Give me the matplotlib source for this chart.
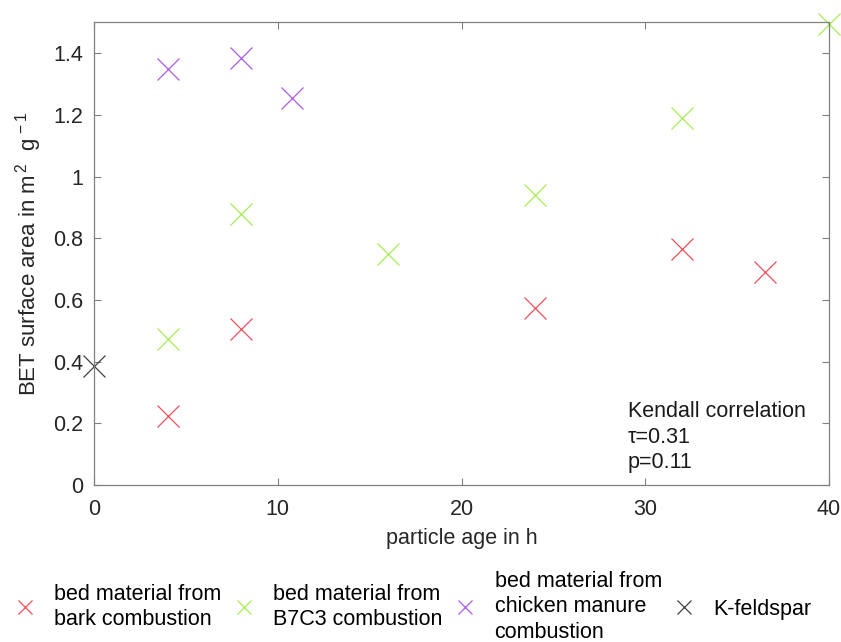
import matplotlib.pyplot as plt

plt.rcParams['font.family'] = ['Liberation Sans', 'DejaVu Sans']
plt.rcParams['mathtext.fontset'] = 'custom'
plt.rcParams['mathtext.rm'] = 'Liberation Sans'
plt.rcParams['mathtext.it'] = 'Liberation Sans'

# particle age (h) and BET surface area (m2/g)
bark_age = [4, 8, 24, 32, 36.5]
bark_bet = [0.225, 0.505, 0.575, 0.765, 0.69]
b7c3_age = [4, 8, 16, 24, 32, 40]
b7c3_bet = [0.475, 0.88, 0.75, 0.94, 1.19, 1.495]
chicken_age = [4, 8, 10.8]
chicken_bet = [1.35, 1.385, 1.255]
feldspar_age = [0]
feldspar_bet = [0.385]

labels = ["bed material from\nbark combustion",
          "bed material from\nB7C3 combustion",
          "bed material from\nchicken manure\ncombustion",
          "K-feldspar"]
colors = ["#ee4f5a", "#a8ec58", "#b05ae6", "#404040"]

fig = plt.figure(figsize=(8.41, 6.42), dpi=100)
ax = fig.add_axes([0.1118, 0.2445, 0.874, 0.7205])

series = [(bark_age, bark_bet), (b7c3_age, b7c3_bet),
          (chicken_age, chicken_bet), (feldspar_age, feldspar_bet)]
for (x, y), lab, c in zip(series, labels, colors):
    ax.plot(x, y, linestyle="none", marker="x", markersize=16,
            markeredgewidth=0.9, color=c, label=lab, clip_on=False)

ax.set_xlim(0, 40)
ax.set_ylim(0, 1.5)
ax.set_xticks([0, 10, 20, 30, 40])
ax.set_yticks([0, 0.2, 0.4, 0.6, 0.8, 1, 1.2, 1.4])
ax.set_yticklabels(["0", "0.2", "0.4", "0.6", "0.8", "1", "1.2", "1.4"])
ax.tick_params(direction="in", top=True, right=True, length=5,
               width=0.8, color="#808080", labelsize=15.5,
               labelcolor="#262626")
ax.tick_params(axis="x", pad=10)
ax.tick_params(axis="y", pad=8)
for s in ax.spines.values():
    s.set_color("#808080")
    s.set_linewidth(0.9)

ax.set_xlabel("particle age in h", fontsize=15.5, color="#262626", labelpad=6)
ax.set_ylabel(r"BET surface area in m$^{\,2}$  g$^{\,-1}$", fontsize=16,
              color="#262626", labelpad=6)

ax.text(0.7265, 0.1038, "Kendall correlation\nτ=0.31\np=0.11",
        transform=ax.transAxes, fontsize=15.5, color="#1a1a1a",
        linespacing=1.3, va="center", ha="left")

leg = fig.legend(loc="lower center", bbox_to_anchor=(0.4917, -0.031), ncol=4,
                 frameon=False, fontsize=15.5, handlelength=0.9,
                 handletextpad=0.91, columnspacing=0.6, markerscale=0.62)
for t in leg.get_texts():
    t.set_linespacing(1.27)

fig.savefig("out.png", dpi=100)
